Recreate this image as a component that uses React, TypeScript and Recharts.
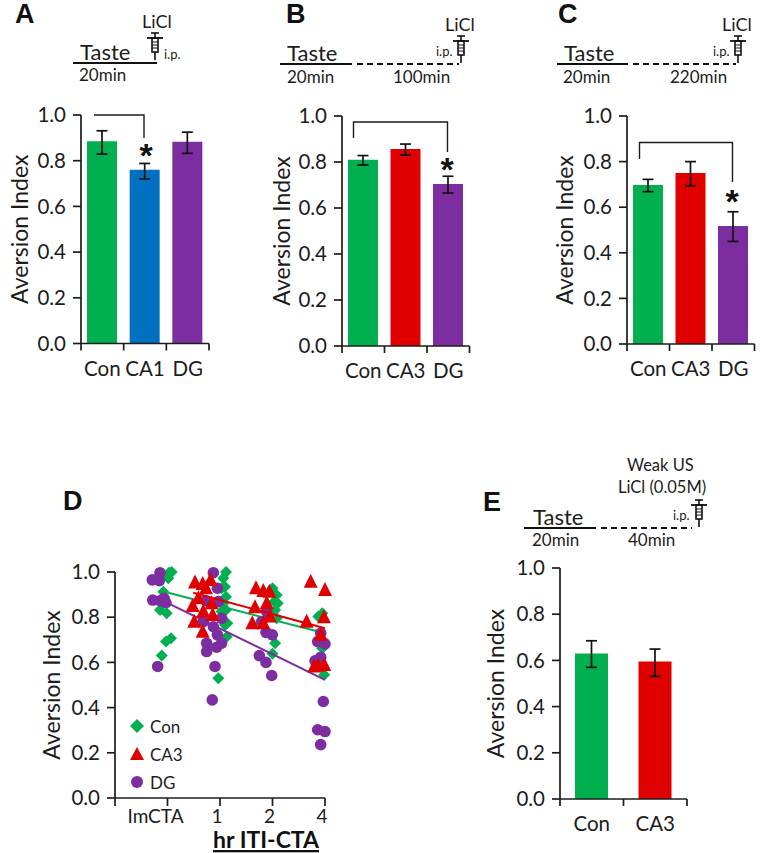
import { BarChart, Bar, Cell, ErrorBar, Legend, Scatter, ScatterChart, XAxis, YAxis } from 'recharts';

const FONT = 'Lato, sans-serif';
const INK = '#1c1c1c';
const GREEN = '#00b050';
const BLUE = '#0070c0';
const RED = '#e00000';
const PURPLE = '#7c2da0';

const yTicks = [0, 0.2, 0.4, 0.6, 0.8, 1];

// bar panels: value, then [minus, plus] for the error bar
const namesA = ['Con', 'CA1', 'DG'];
const valuesA = [0.885, 0.76, 0.883];
const errorsA = [[0.056, 0.046], [0.04, 0.028], [0.051, 0.042]];
const colorsA = [GREEN, BLUE, PURPLE];

const namesB = ['Con', 'CA3', 'DG'];
const valuesB = [0.81, 0.857, 0.704];
const errorsB = [[0.023, 0.018], [0.027, 0.021], [0.039, 0.034]];
const colorsB = [GREEN, RED, PURPLE];

const namesC = ['Con', 'CA3', 'DG'];
const valuesC = [0.697, 0.75, 0.517];
const errorsC = [[0.029, 0.025], [0.056, 0.05], [0.067, 0.063]];

const namesE = ['Con', 'CA3'];
const valuesE = [0.63, 0.595];
const errorsE = [[0.06, 0.055], [0.064, 0.054]];
const colorsE = [GREEN, RED];

// panel D, [x, y] (x runs 0-4 along the axis)
const conPoints = [
  [1.03, 0.997], [1.08, 1], [1.015, 0.972], [0.92, 0.913], [0.857, 0.832], [0.985, 0.817], [0.971, 0.692], [1.067, 0.707], [0.89, 0.63],
  [2.114, 1], [2.063, 0.972], [2.095, 0.935], [2.03, 0.928], [2.114, 0.891], [2.063, 0.862], [2.114, 0.832], [2.03, 0.825], [2.139, 0.773], [2.095, 0.766], [2.128, 0.714], [1.968, 0.53],
  [3.0, 0.928], [3.08, 0.898], [3.1, 0.862], [3.034, 0.869], [3.05, 0.832], [3.08, 0.795], [3.05, 0.685], [3.0, 0.638],
  [3.873, 0.803], [3.949, 0.817], [3.949, 0.663], [3.986, 0.545],
];
const ca3Points = [
  [1.524, 0.953], [1.67, 0.947], [1.82, 0.965], [1.733, 0.928], [1.587, 0.884], [1.48, 0.85], [1.84, 0.862], [1.682, 0.825], [1.861, 0.81], [1.51, 0.78], [1.67, 0.736],
  [2.686, 0.928], [2.825, 0.916], [2.94, 0.913], [2.89, 0.862], [2.667, 0.844], [2.952, 0.803], [2.615, 0.773], [2.825, 0.773],
  [3.728, 0.957], [4, 0.92], [3.98, 0.8], [3.65, 0.78], [3.918, 0.722], [3.796, 0.582], [3.872, 0.585], [3.986, 0.589],
];
const dgPoints = [
  [0.71, 0.965], [0.857, 0.997], [0.844, 0.962], [0.718, 0.876], [0.857, 0.873], [0.933, 0.884], [0.971, 0.864], [0.813, 0.582],
  [1.873, 0.997], [1.95, 0.928], [1.733, 0.873], [1.968, 0.869], [2.03, 0.795], [1.682, 0.78], [1.873, 0.758], [1.95, 0.722], [2.03, 0.685], [1.745, 0.685], [1.937, 0.667], [1.745, 0.648], [1.905, 0.582], [1.853, 0.434],
  [2.89, 0.825], [2.794, 0.78], [2.876, 0.733], [2.996, 0.722], [2.749, 0.63], [2.876, 0.6], [2.985, 0.542],
  [3.918, 0.729], [3.86, 0.692], [4, 0.682], [3.81, 0.607], [3.918, 0.623], [3.968, 0.427], [3.86, 0.302], [4, 0.294], [3.918, 0.236],
];
const conTrend = [[1.015, 0.908], [4, 0.729]];
const ca3Trend = [[1.49, 0.908], [4, 0.751]];
const dgTrend = [[1.015, 0.861], [4, 0.523]];
const scatterTicks = [0, 1, 2, 3, 4];
const scatterTickLabels = ['', 'ImCTA', '1', '2', '4'];
const legendNames = ['Con', 'CA3', 'DG'];

const toPoints = (pts: number[][]) => pts.map(([x, y]) => ({ x, y }));

const yLabel = (offset: number) => ({
  value: 'Aversion Index',
  angle: -90,
  position: 'insideLeft' as const,
  offset,
  style: { textAnchor: 'middle', fontSize: 23, fontFamily: FONT, fill: INK },
});

function BandTick({ x, y, payload, index, band, count }: any) {
  return (
    <g>
      <line x1={x - band / 2} x2={x - band / 2} y1={y} y2={y + 7} stroke={INK} strokeWidth={1.7} />
      {index === count - 1 && <line x1={x + band / 2} x2={x + band / 2} y1={y} y2={y + 7} stroke={INK} strokeWidth={1.7} />}
      <text x={x} y={y + 32} textAnchor="middle" fontSize={20.5} fontFamily={FONT} fill={INK}>
        {payload.value}
      </text>
    </g>
  );
}

function BarPanel({ names, values, errors, colors, axisX, top, plotW, plotH, barSize, labelOffset }: any) {
  const rows = names.map((name: string, i: number) => ({ name, value: values[i], err: errors[i] }));
  const band = plotW / names.length;
  return (
    <div style={{ position: 'absolute', left: axisX - 90, top: top - 20 }}>
      <BarChart width={90 + plotW + 15} height={20 + plotH + 45} data={rows} margin={{ top: 20, right: 15, bottom: 0, left: 20 }}>
        <XAxis
          dataKey="name"
          height={45}
          interval={0}
          tickSize={0}
          tickMargin={0}
          tickLine={false}
          axisLine={{ stroke: INK, strokeWidth: 1.7 }}
          tick={(p: any) => <BandTick {...p} band={band} count={names.length} />}
        />
        <YAxis
          width={70}
          domain={[0, 1]}
          ticks={yTicks}
          interval={0}
          tickSize={8}
          tickMargin={7}
          tickFormatter={(v: number) => v.toFixed(1)}
          tick={{ fontSize: 20.5, fontFamily: FONT, fill: INK }}
          tickLine={{ stroke: INK, strokeWidth: 1.7 }}
          axisLine={{ stroke: INK, strokeWidth: 1.7 }}
          label={yLabel(labelOffset)}
        />
        <Bar dataKey="value" barSize={barSize} isAnimationActive={false}>
          {names.map((name: string, i: number) => (
            <Cell key={name} fill={colors[i]} />
          ))}
          <ErrorBar dataKey="err" width={5.5} stroke="#111" strokeWidth={1.7} isAnimationActive={false} />
        </Bar>
      </BarChart>
    </div>
  );
}

function DiamondDot({ cx, cy, fill }: any) {
  const r = 6;
  return <polygon points={`${cx},${cy - r} ${cx + r},${cy} ${cx},${cy + r} ${cx - r},${cy}`} fill={fill} />;
}

function TriangleDot({ cx, cy, fill }: any) {
  return <polygon points={`${cx},${cy - 8} ${cx + 7},${cy + 6} ${cx - 7},${cy + 6}`} fill={fill} />;
}

function CircleDot({ cx, cy, fill }: any) {
  return <circle cx={cx} cy={cy} r={5.8} fill={fill} />;
}

function NoDot() {
  return null;
}

function ScatterTick({ x, y, payload, index }: any) {
  return (
    <g>
      <line x1={x} x2={x} y1={y} y2={y + 8} stroke={INK} strokeWidth={1.7} />
      <text x={x + (index === 1 ? -12 : -3)} y={y + 25} textAnchor="middle" fontSize={19} fontFamily={FONT} fill={INK}>
        {scatterTickLabels[payload.value]}
      </text>
    </g>
  );
}

function LegendIcon({ name }: { name: string }) {
  if (name === 'Con') return <polygon points="8,1 15,8 8,15 1,8" fill={GREEN} />;
  if (name === 'CA3') return <polygon points="8,1 15,14 1,14" fill={RED} />;
  return <circle cx={8} cy={8} r={6} fill={PURPLE} />;
}

function ScatterLegend() {
  return (
    <div>
      {legendNames.map((name) => (
        <div key={name} style={{ display: 'flex', alignItems: 'center', height: 28, fontFamily: FONT, fontSize: 17, color: INK }}>
          <svg width={16} height={16} style={{ marginRight: 5 }}>
            <LegendIcon name={name} />
          </svg>
          {name}
        </div>
      ))}
    </div>
  );
}

function ScatterPanel() {
  const line = (stroke: string) => ({ stroke, strokeWidth: 2 });
  return (
    <div style={{ position: 'absolute', left: 25, top: 552 }}>
      <ScatterChart width={320} height={292} margin={{ top: 20, right: 20, bottom: 0, left: 20 }}>
        <XAxis
          type="number"
          dataKey="x"
          domain={[0, 4]}
          ticks={scatterTicks}
          interval={0}
          height={46}
          tickSize={0}
          tickMargin={0}
          tickLine={false}
          axisLine={{ stroke: INK, strokeWidth: 1.7 }}
          tick={(p: any) => <ScatterTick {...p} />}
        />
        <YAxis
          type="number"
          dataKey="y"
          width={70}
          domain={[0, 1]}
          ticks={yTicks}
          interval={0}
          tickSize={8}
          tickMargin={7}
          tickFormatter={(v: number) => v.toFixed(1)}
          tick={{ fontSize: 20.5, fontFamily: FONT, fill: INK }}
          tickLine={{ stroke: INK, strokeWidth: 1.7 }}
          axisLine={{ stroke: INK, strokeWidth: 1.7 }}
          label={yLabel(7)}
        />
        <Legend
          layout="horizontal"
          verticalAlign="middle"
          align="center"
          content={<ScatterLegend />}
          wrapperStyle={{ left: 104, top: 160, width: 90 }}
        />
        <Scatter data={toPoints(conPoints)} fill={GREEN} shape={<DiamondDot />} isAnimationActive={false} />
        <Scatter data={toPoints(conTrend)} line={line(GREEN)} shape={<NoDot />} isAnimationActive={false} />
        <Scatter data={toPoints(dgPoints)} fill={PURPLE} shape={<CircleDot />} isAnimationActive={false} />
        <Scatter data={toPoints(dgTrend)} line={line(PURPLE)} shape={<NoDot />} isAnimationActive={false} />
        <Scatter data={toPoints(ca3Trend)} line={line(RED)} shape={<NoDot />} isAnimationActive={false} />
        <Scatter data={toPoints(ca3Points)} fill={RED} shape={<TriangleDot />} isAnimationActive={false} />
      </ScatterChart>
    </div>
  );
}

function Syringe({ x, y }: { x: number; y: number }) {
  return (
    <g stroke="#111" fill="none">
      <line x1={x - 4} x2={x + 4} y1={y} y2={y} strokeWidth={1.6} />
      <line x1={x} x2={x} y1={y} y2={y + 5} strokeWidth={1.6} />
      <line x1={x - 8} x2={x + 8} y1={y + 5} y2={y + 5} strokeWidth={1.8} />
      <rect x={x - 3} y={y + 5} width={6} height={14} strokeWidth={1.6} />
      <line x1={x - 3} x2={x + 3} y1={y + 9} y2={y + 9} strokeWidth={1} />
      <line x1={x - 3} x2={x + 3} y1={y + 12} y2={y + 12} strokeWidth={1} />
      <line x1={x - 3} x2={x + 3} y1={y + 15} y2={y + 15} strokeWidth={1} />
      <line x1={x} x2={x} y1={y + 19} y2={y + 27} strokeWidth={1.6} />
    </g>
  );
}

function Txt({ x, y, size, children }: any) {
  return (
    <text x={x} y={y} fontSize={size} fontFamily={FONT} fill={INK}>
      {children}
    </text>
  );
}

function PanelLetter({ x, y, children }: any) {
  return (
    <text x={x} y={y} fontSize={27} fontWeight={700} fontFamily="'Liberation Sans', sans-serif" fill="#111">
      {children}
    </text>
  );
}

function Timeline({ x0, x1, x2, y }: { x0: number; x1: number; x2?: number; y: number }) {
  return (
    <g stroke="#111" strokeWidth={1.8}>
      <line x1={x0} x2={x1} y1={y} y2={y} />
      {x2 !== undefined && <line x1={x1 + 5} x2={x2} y1={y} y2={y} strokeDasharray="6 4" />}
    </g>
  );
}

function Bracket({ d }: { d: string }) {
  return <path d={d} fill="none" stroke={INK} strokeWidth={1.4} />;
}

function Star({ x, y }: { x: number; y: number }) {
  return (
    <text x={x} y={y} textAnchor="middle" fontSize={34} fontWeight={700} fontFamily="'Liberation Sans', sans-serif" fill="#111">
      *
    </text>
  );
}

function Annotations() {
  return (
    <svg width={762} height={853} style={{ position: 'absolute', left: 0, top: 0, pointerEvents: 'none' }}>
      <PanelLetter x={15} y={23}>A</PanelLetter>
      <PanelLetter x={286} y={23}>B</PanelLetter>
      <PanelLetter x={558} y={23}>C</PanelLetter>
      <PanelLetter x={63} y={510}>D</PanelLetter>
      <PanelLetter x={483} y={511}>E</PanelLetter>

      <Txt x={142} y={28} size={18}>LiCl</Txt>
      <Syringe x={155} y={33} />
      <Txt x={164} y={59} size={13}>i.p.</Txt>
      <Timeline x0={73} x1={157} y={63} />
      <Txt x={80} y={60} size={22}>Taste</Txt>
      <Txt x={79} y={81} size={17}>20min</Txt>
      <Bracket d="M94 115 H144 V138" />
      <Star x={146} y={167} />

      <Txt x={445} y={31} size={18}>LiCl</Txt>
      <Syringe x={461} y={36} />
      <Txt x={436} y={56} size={13}>i.p.</Txt>
      <Timeline x0={280} x1={352} x2={459} y={64} />
      <Txt x={287} y={61} size={22}>Taste</Txt>
      <Txt x={287} y={83} size={17}>20min</Txt>
      <Txt x={393} y={83} size={17}>100min</Txt>
      <Bracket d="M353.5 138 V122 H447.5 V152" />
      <Star x={447} y={181} />

      <Txt x={722} y={31} size={18}>LiCl</Txt>
      <Syringe x={738} y={36} />
      <Txt x={713} y={56} size={13}>i.p.</Txt>
      <Timeline x0={557} x1={628} x2={736} y={64} />
      <Txt x={564} y={61} size={22}>Taste</Txt>
      <Txt x={563} y={83} size={17}>20min</Txt>
      <Txt x={670} y={83} size={17}>220min</Txt>
      <Bracket d="M639.5 159 V142.5 H732.5 V182" />
      <Star x={732} y={213} />

      <Txt x={627} y={471} size={16.5}>Weak US</Txt>
      <Txt x={618} y={493} size={16.5}>LiCl (0.05M)</Txt>
      <Syringe x={699} y={500} />
      <Txt x={673} y={520} size={13}>i.p.</Txt>
      <Timeline x0={524} x1={596} x2={692} y={528} />
      <Txt x={533} y={525} size={22}>Taste</Txt>
      <Txt x={532} y={546} size={17}>20min</Txt>
      <Txt x={628} y={546} size={17}>40min</Txt>

      <text x={266} y={848} textAnchor="middle" fontSize={23} fontWeight={700} fontFamily={FONT} fill="#111" textDecoration="underline">
        hr ITI-CTA
      </text>
    </svg>
  );
}

export default function App() {
  return (
    <div style={{ position: 'absolute', left: 0, top: 0, width: 762, height: 853, background: '#fff', overflow: 'hidden' }}>
      <BarPanel names={namesA} values={valuesA} errors={errorsA} colors={colorsA} axisX={81} top={114.5} plotW={128} plotH={228.5} barSize={30} labelOffset={9} />
      <BarPanel names={namesB} values={valuesB} errors={errorsB} colors={colorsB} axisX={341.7} top={115.5} plotW={127.5} plotH={230} barSize={30} labelOffset={10} />
      <BarPanel names={namesC} values={valuesC} errors={errorsC} colors={colorsB} axisX={626.7} top={115.5} plotW={127.5} plotH={228} barSize={30} labelOffset={8} />
      <ScatterPanel />
      <BarPanel names={namesE} values={valuesE} errors={errorsE} colors={colorsE} axisX={559.7} top={568.3} plotW={127} plotH={231} barSize={33} labelOffset={6} />
      <Annotations />
    </div>
  );
}
